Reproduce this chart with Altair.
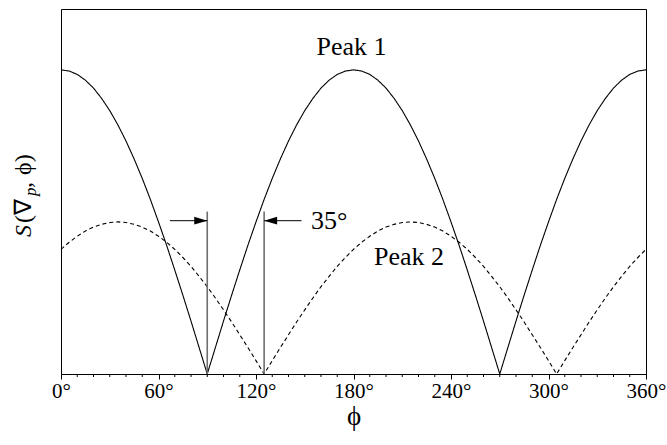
import altair as alt
import pandas as pd

# ---- data ----
phi_deg = list(range(0, 361, 5))
peak1 = [1.000, 0.996, 0.985, 0.966, 0.940, 0.906, 0.866, 0.819, 0.766, 0.707,
         0.643, 0.574, 0.500, 0.423, 0.342, 0.259, 0.174, 0.087, 0.000,
         0.087, 0.174, 0.259, 0.342, 0.423, 0.500, 0.574, 0.643, 0.707, 0.766,
         0.819, 0.866, 0.906, 0.940, 0.966, 0.985, 0.996, 1.000,
         0.996, 0.985, 0.966, 0.940, 0.906, 0.866, 0.819, 0.766, 0.707, 0.643,
         0.574, 0.500, 0.423, 0.342, 0.259, 0.174, 0.087, 0.000,
         0.087, 0.174, 0.259, 0.342, 0.423, 0.500, 0.574, 0.643, 0.707, 0.766,
         0.819, 0.866, 0.906, 0.940, 0.966, 0.985, 0.996, 1.000]
peak2 = [0.410, 0.433, 0.453, 0.470, 0.483, 0.492, 0.498, 0.500, 0.498, 0.492,
         0.483, 0.470, 0.453, 0.433, 0.410, 0.383, 0.354, 0.321, 0.287, 0.250,
         0.211, 0.171, 0.129, 0.087, 0.044, 0.000,
         0.044, 0.087, 0.129, 0.171, 0.211, 0.250, 0.287, 0.321, 0.354, 0.383,
         0.410, 0.433, 0.453, 0.470, 0.483, 0.492, 0.498, 0.500,
         0.498, 0.492, 0.483, 0.470, 0.453, 0.433, 0.410, 0.383, 0.354, 0.321,
         0.287, 0.250, 0.211, 0.171, 0.129, 0.087, 0.044, 0.000,
         0.044, 0.087, 0.129, 0.171, 0.211, 0.250, 0.287, 0.321, 0.354, 0.383,
         0.410]
series_names = ["Peak 1", "Peak 2"]
x_major_ticks = [0, 60, 120, 180, 240, 300, 360]
x_minor_ticks = [v for v in range(0, 361, 10) if v % 60 != 0]

marker_phi = [90, 125]
marker_top = [0.534, 0.534]
arrow_from = [67, 148]
arrow_to = [90, 125]
arrow_y = [0.504, 0.504]
arrow_dir = ["right", "left"]

label_text = ["Peak 1", "Peak 2"]
label_x = [178.8, 214.2]
label_y = [1.049, 0.3595]
angle_text = ["35°"]
angle_x = [153.8]
angle_y = [0.504]

FONT = "Liberation Serif"

df = pd.DataFrame({
    "phi": phi_deg * 2,
    "S": peak1 + peak2,
    "series": [series_names[0]] * len(phi_deg) + [series_names[1]] * len(phi_deg),
})

xscale = alt.Scale(domain=[0, 360], nice=False, zero=False)
yscale = alt.Scale(domain=[0, 1.2], nice=False, zero=True)

lines = alt.Chart(df).mark_line(color="black", strokeWidth=1.1).encode(
    x=alt.X("phi:Q", scale=xscale, title="ϕ",
            axis=alt.Axis(values=x_major_ticks,
                          labelExpr="datum.value + '°'",
                          tickSize=5, tickColor="black", domainColor="black",
                          labelColor="black",
                          labelFont=FONT, labelFontSize=21, labelPadding=1,
                          labelFlush=False, labelOverlap=False, grid=False,
                          titleFont=FONT, titleFontSize=27, titleFontWeight="normal",
                          titleColor="black", titlePadding=2)),
    y=alt.Y("S:Q", scale=yscale, axis=None),
    strokeDash=alt.StrokeDash("series:N",
                              scale=alt.Scale(domain=series_names, range=[[1, 0], [4, 3]]),
                              legend=None),
)

# minor ticks along the bottom axis
minor = alt.Chart(pd.DataFrame({"phi": x_minor_ticks})).mark_rule(
    color="black", strokeWidth=1, clip=False).encode(
    x=alt.X("phi:Q", scale=xscale), y=alt.value(365), y2=alt.value(368))

mdf = pd.DataFrame({"phi": marker_phi, "top": marker_top, "bottom": [0, 0]})
markers = alt.Chart(mdf).mark_rule(color="#6e6e6e", strokeWidth=1.6).encode(
    x=alt.X("phi:Q", scale=xscale), y=alt.Y("bottom:Q", scale=yscale), y2="top:Q")

adf = pd.DataFrame({"x1": arrow_from, "x2": arrow_to, "y": arrow_y, "dir": arrow_dir})
shafts = alt.Chart(adf).mark_rule(color="black", strokeWidth=1).encode(
    x=alt.X("x1:Q", scale=xscale), x2="x2:Q", y=alt.Y("y:Q", scale=yscale))
heads = alt.Chart(adf).mark_point(filled=True, color="black", opacity=1, size=169).encode(
    x=alt.X("x2:Q", scale=xscale), y=alt.Y("y:Q", scale=yscale),
    shape=alt.Shape("dir:N", scale=alt.Scale(domain=["right", "left"],
                    range=["M0,0 L-2,-0.6 L-2,0.6 Z", "M0,0 L2,-0.6 L2,0.6 Z"]), legend=None))

ldf = pd.DataFrame({"t": label_text, "x": label_x, "y": label_y})
labels = alt.Chart(ldf).mark_text(font=FONT, fontSize=26, color="black",
                                  align="center", baseline="alphabetic").encode(
    x=alt.X("x:Q", scale=xscale), y=alt.Y("y:Q", scale=yscale), text="t:N")

tdf = pd.DataFrame({"t": angle_text, "x": angle_x, "y": angle_y})
angle_lbl = alt.Chart(tdf).mark_text(font=FONT, fontSize=26, color="black",
                                     align="left", baseline="middle").encode(
    x=alt.X("x:Q", scale=xscale), y=alt.Y("y:Q", scale=yscale), text="t:N")

# y-axis title built from pieces: S(∇p, ϕ)
ytitle_parts = [
    ("S", 228, -30, 24, "italic"),
    ("(∇", 214, -30, 24, "normal"),
    ("p", 187, -25, 17, "italic"),
    (",", 179, -30, 24, "normal"),
    ("ϕ)", 166, -30, 24, "normal"),
]
ytitle = []
for txt, yy, xx, fs, st in ytitle_parts:
    ytitle.append(
        alt.Chart(pd.DataFrame({"t": [txt]})).mark_text(
            font=FONT, fontSize=fs, fontStyle=st, color="black", angle=270,
            align="left", baseline="alphabetic").encode(
            text="t:N", x=alt.value(xx), y=alt.value(yy)))

chart = alt.layer(lines, minor, markers, shafts, heads, labels, angle_lbl, *ytitle).properties(
    width=585, height=365,
    autosize=alt.AutoSizeParams(type="none"),
    padding={"left": 61, "top": 9, "right": 21, "bottom": 71},
    background="white",
).configure_view(stroke="black", strokeWidth=1)

chart.save("out.html", embed_options={"renderer": "svg", "actions": False})
